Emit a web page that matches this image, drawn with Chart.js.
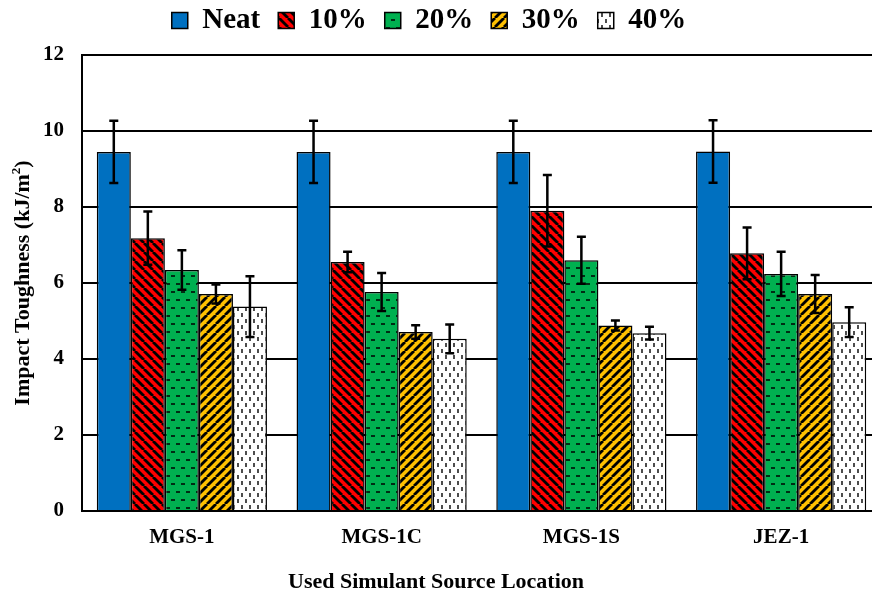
<!DOCTYPE html>
<html>
<head>
<meta charset="utf-8">
<script src="https://cdn.jsdelivr.net/npm/chart.js@4.4.1/dist/chart.umd.min.js"></script>
<style>
  html, body { margin: 0; padding: 0; background: #fff; }
  #wrap { width: 872px; height: 594px; }
</style>
</head>
<body>
<div id="wrap"><canvas id="grafico" width="872" height="594"></canvas></div>
<script>
// datos
const categorias = ['MGS-1', 'MGS-1C', 'MGS-1S', 'JEZ-1'];
const series = ['Neat', '10%', '20%', '30%', '40%'];

const neat = [9.45, 9.45, 9.45, 9.46];
const p10 = [7.18, 6.55, 7.90, 6.78];
const p20 = [6.34, 5.76, 6.60, 6.24];
const p30 = [5.71, 4.71, 4.88, 5.71];
const p40 = [5.38, 4.53, 4.68, 4.97];

const errNeat = [0.82, 0.82, 0.82, 0.82];
const err10 = [0.70, 0.27, 0.94, 0.68];
const err20 = [0.52, 0.50, 0.62, 0.58];
const err30 = [0.25, 0.18, 0.13, 0.50];
const err40 = [0.80, 0.38, 0.17, 0.39];

const yTicks = [0, 2, 4, 6, 8, 10, 12];

const fuente = "'Liberation Serif', 'Times New Roman', serif";

// patrones de relleno
function patron(fondo, w, h, dibujar) {
    const c = document.createElement('canvas');
    c.width = w; c.height = h;
    const g = c.getContext('2d');
    g.fillStyle = fondo;
    g.fillRect(0, 0, w, h);
    g.strokeStyle = '#000';
    dibujar(g);
    return g.createPattern(c, 'repeat');
}

const rayasRojas = patron('#FF0000', 9, 9, g => {
    g.lineWidth = 2.8;
    [-9, 0, 9].forEach(k => {
        g.beginPath(); g.moveTo(k, 0); g.lineTo(k + 9, 9); g.stroke();
    });
});
const guionesVerdes = patron('#00B050', 10, 16, g => {
    g.lineWidth = 1.5;
    g.beginPath(); g.moveTo(1, 4); g.lineTo(5, 4); g.stroke();
    g.beginPath(); g.moveTo(6, 12); g.lineTo(10, 12); g.stroke();
});
const rayasAmarillas = patron('#FFC000', 9, 9, g => {
    g.lineWidth = 2.8;
    [-9, 0, 9].forEach(k => {
        g.beginPath(); g.moveTo(k + 9, 0); g.lineTo(k, 9); g.stroke();
    });
});
const guionesBlancos = patron('#FFFFFF', 8, 12, g => {
    g.lineWidth = 1.4;
    g.beginPath(); g.moveTo(2, 1); g.lineTo(2, 5); g.stroke();
    g.beginPath(); g.moveTo(6, 7); g.lineTo(6, 11); g.stroke();
});

const valores = [neat, p10, p20, p30, p40];
const errores = [errNeat, err10, err20, err30, err40];
const rellenos = ['#0070C0', rayasRojas, guionesVerdes, rayasAmarillas, guionesBlancos];

// barras de error
const barrasError = {
    id: 'barrasError',
    afterDatasetsDraw(chart) {
        const ctx = chart.ctx;
        const y = chart.scales.y;
        ctx.save();
        ctx.strokeStyle = '#000';
        ctx.lineWidth = 2.5;
        chart.data.datasets.forEach((ds, i) => {
            const meta = chart.getDatasetMeta(i);
            meta.data.forEach((bar, j) => {
                const v = ds.data[j];
                const e = errores[i][j];
                const y1 = y.getPixelForValue(v + e);
                const y2 = y.getPixelForValue(v - e);
                ctx.beginPath();
                ctx.moveTo(bar.x, y1); ctx.lineTo(bar.x, y2);
                ctx.moveTo(bar.x - 4.5, y1); ctx.lineTo(bar.x + 4.5, y1);
                ctx.moveTo(bar.x - 4.5, y2); ctx.lineTo(bar.x + 4.5, y2);
                ctx.stroke();
            });
        });
        ctx.restore();
    }
};

// leyenda con alto fijo; el eje x sigue un poco mas alla del borde (recortado en el original)
const ajusteLayout = {
    id: 'ajusteLayout',
    beforeInit(chart) {
        const lg = chart.legend;
        if (!lg) return;
        const fitOriginal = lg.fit;
        lg.fit = function () {
            fitOriginal.call(this);
            this.height = 55;
        };
    },
    afterLayout(chart) {
        const lg = chart.legend;
        lg.top -= 12;
        lg.left -= 7;
        lg.right -= 7;
        const x = chart.scales.x;
        x.right += 9;
        x.width += 9;
        x.configure();
    }
};

// titulos de los ejes
const titulosEjes = {
    id: 'titulosEjes',
    afterDraw(chart) {
        const ctx = chart.ctx;
        const a = chart.chartArea;
        ctx.save();
        ctx.fillStyle = '#000';
        ctx.textBaseline = 'middle';

        // eje x, centrado en la figura
        ctx.font = 'bold 22px ' + fuente;
        ctx.textAlign = 'center';
        ctx.fillText('Used Simulant Source Location', chart.width / 2, a.bottom + 71);

        // eje y con superindice
        ctx.save();
        ctx.translate(23, (a.top + a.bottom) / 2);
        ctx.rotate(-Math.PI / 2);
        const base = 'Impact Toughness (kJ/m';
        ctx.font = 'bold 22px ' + fuente;
        const wBase = ctx.measureText(base).width;
        ctx.font = 'bold 13px ' + fuente;
        const wSup = ctx.measureText('2').width;
        ctx.font = 'bold 22px ' + fuente;
        const wCierre = ctx.measureText(')').width;
        let x = -(wBase + wSup + wCierre) / 2;
        ctx.textAlign = 'left';
        ctx.fillText(base, x, 0);
        x += wBase;
        ctx.font = 'bold 13px ' + fuente;
        ctx.fillText('2', x, -6);
        x += wSup;
        ctx.font = 'bold 22px ' + fuente;
        ctx.fillText(')', x, 0);
        ctx.restore();

        ctx.restore();
    }
};

new Chart(document.getElementById('grafico'), {
    type: 'bar',
    data: {
        labels: categorias,
        datasets: series.map((s, i) => ({
            label: s,
            data: valores[i],
            backgroundColor: rellenos[i],
            borderColor: '#000',
            borderWidth: 1.5,
            barPercentage: 1,
            categoryPercentage: 0.852
        }))
    },
    options: {
        responsive: false,
        animation: false,
        layout: { padding: 0 },
        plugins: {
            legend: {
                position: 'top',
                labels: {
                    color: '#000',
                    font: { family: fuente, size: 29, weight: 'bold' },
                    boxWidth: 16,
                    boxHeight: 16,
                    padding: 18
                }
            },
            tooltip: { enabled: false }
        },
        scales: {
            x: {
                grid: { display: false },
                border: { display: true, color: '#000', width: 2 },
                ticks: {
                    color: '#000',
                    font: { family: fuente, size: 21, weight: 'bold' },
                    padding: 6
                },
                afterFit: s => { s.height = 83; }
            },
            y: {
                min: 0,
                max: 12,
                afterBuildTicks: s => { s.ticks = yTicks.map(v => ({ value: v })); },
                grid: { color: '#000', lineWidth: 2, drawTicks: false },
                border: { display: true, color: '#000', width: 2 },
                ticks: {
                    color: '#000',
                    font: { family: fuente, size: 21, weight: 'bold' },
                    padding: 18
                },
                afterFit: s => { s.width = 82; }
            }
        }
    },
    plugins: [barrasError, ajusteLayout, titulosEjes]
});
</script>
</body>
</html>
